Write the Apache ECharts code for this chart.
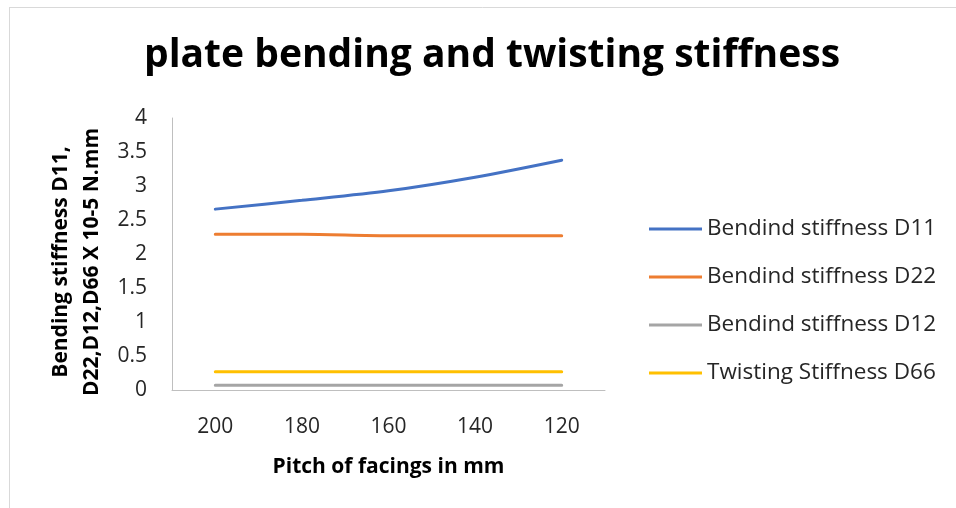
<!DOCTYPE html>
<html>
<head>
<meta charset="utf-8">
<script src="https://cdn.jsdelivr.net/npm/echarts@6/dist/echarts.min.js"></script>
<style>
  html, body { margin: 0; padding: 0; background: #ffffff; }
  #chart { width: 956px; height: 508px; }
</style>
</head>
<body>
<div id="chart"></div>
<script>
// Pitch of facings (mm) along the x axis
const pitches = ['200', '180', '160', '140', '120'];

// Stiffness values, units of 10^-5 N.mm
const d11 = [2.66, 2.79, 2.93, 3.13, 3.38];
const d22 = [2.29, 2.29, 2.27, 2.27, 2.27];
const d12 = [0.07, 0.07, 0.07, 0.07, 0.07];
const d66 = [0.27, 0.27, 0.27, 0.27, 0.27];

const seriesNames = [
  'Bendind stiffness D11',
  'Bendind stiffness D22',
  'Bendind stiffness D12',
  'Twisting Stiffness D66'
];
const seriesColors = ['#4472C4', '#ED7D31', '#A5A5A5', '#FFC000'];
const seriesData = [d11, d22, d12, d66];

const yTicks = { min: 0, max: 4, interval: 0.5 };

const FONT = '"Open Sans", "Noto Sans", sans-serif';

const chart = echarts.init(document.getElementById('chart'), null, { renderer: 'canvas' });

chart.setOption({
  backgroundColor: '#ffffff',
  animation: false,
  title: {
    text: 'plate bending and twisting stiffness',
    left: 487,
    top: 31,
    textAlign: 'center',
    textStyle: { fontFamily: FONT, fontSize: 39, fontWeight: 'bold', color: '#000000' }
  },
  legend: {
    orient: 'vertical',
    left: 644,
    top: 210,
    icon: 'rect',
    itemWidth: 53,
    itemHeight: 3,
    itemGap: 20,
    data: seriesNames,
    textStyle: { fontFamily: FONT, fontSize: 22.5, color: '#262626', lineHeight: 28 }
  },
  grid: { left: 172, right: 351, top: 118, bottom: 118, containLabel: false },
  xAxis: {
    type: 'category',
    data: pitches,
    boundaryGap: true,
    axisLine: { show: true, lineStyle: { color: '#BFBFBF', width: 1 } },
    axisTick: { show: false },
    axisLabel: { fontFamily: FONT, fontSize: 21, color: '#262626', margin: 27 },
    name: 'Pitch of facings in mm',
    nameLocation: 'middle',
    nameGap: 67,
    nameTextStyle: { fontFamily: FONT, fontSize: 21, fontWeight: 'bold', color: '#000000' }
  },
  yAxis: {
    type: 'value',
    min: yTicks.min,
    max: yTicks.max,
    interval: yTicks.interval,
    axisLine: { show: true, lineStyle: { color: '#BFBFBF', width: 1 } },
    axisTick: { show: false },
    splitLine: { show: false },
    axisLabel: { fontFamily: FONT, fontSize: 21, color: '#262626', margin: 25 },
    name: 'Bending stiffness D11,\nD22,D12,D66 X 10-5 N.mm',
    nameLocation: 'middle',
    nameRotate: 90,
    nameGap: 64,
    nameTextStyle: {
      fontFamily: FONT, fontSize: 21, fontWeight: 'bold', color: '#000000',
      lineHeight: 31, padding: [0, 16, 0, 0]
    }
  },
  series: seriesNames.map((name, i) => ({
    name: name,
    type: 'line',
    data: seriesData[i],
    smooth: 0.3,
    showSymbol: false,
    symbol: 'none',
    lineStyle: { color: seriesColors[i], width: 3, cap: 'round' },
    itemStyle: { color: seriesColors[i] }
  })),
  graphic: [
    { type: 'line', shape: { x1: 9.5, y1: 7, x2: 9.5, y2: 508 }, style: { stroke: '#D9D9D9', lineWidth: 1 } },
    { type: 'line', shape: { x1: 9, y1: 7.5, x2: 956, y2: 7.5 }, style: { stroke: '#D9D9D9', lineWidth: 1 } }
  ]
});
</script>
</body>
</html>
